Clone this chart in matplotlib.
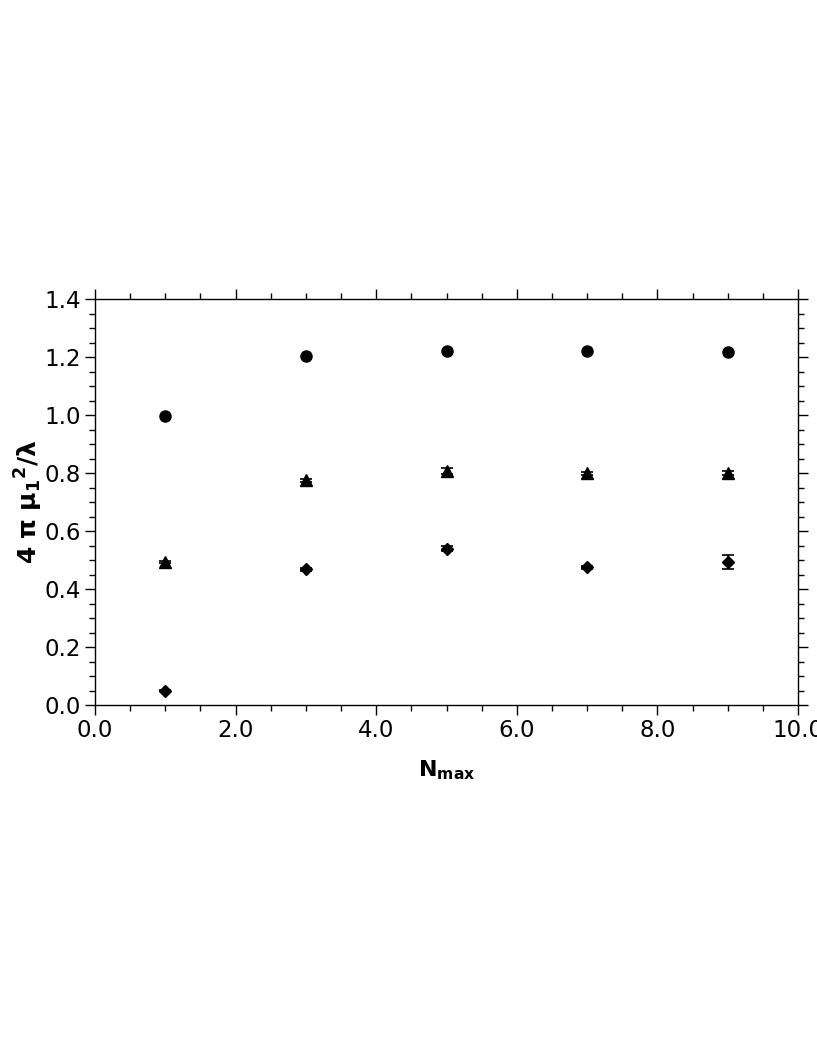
import numpy as np
import matplotlib
matplotlib.use("Agg")
import matplotlib.pyplot as plt
from matplotlib.ticker import MultipleLocator, FormatStrFormatter

plt.rcParams['font.family'] = ['DejaVu Sans']
plt.rcParams['mathtext.fontset'] = 'dejavusans'
plt.rcParams['mathtext.default'] = 'bf'

# data
n_max = [1, 3, 5, 7, 9]
circles = [0.997, 1.204, 1.222, 1.222, 1.219]
triangles = [0.494, 0.776, 0.807, 0.800, 0.801]
triangles_err = [0.003, 0.005, 0.010, 0.005, 0.007]
diamonds = [0.049, 0.468, 0.540, 0.475, 0.494]
diamonds_err = [0.002, 0.004, 0.009, 0.005, 0.023]

fig = plt.figure(figsize=(8.17, 10.58), dpi=100)
ax = fig.add_axes([0.1163, 0.3336, 0.8605, 0.3835])

common = dict(color='black', linestyle='none', capsize=4.5, elinewidth=1.2,
              capthick=1.2)
ax.plot(n_max, circles, 'o', color='black', markersize=8)
ax.errorbar(n_max, triangles, yerr=triangles_err, marker='^', markersize=8, **common)
ax.errorbar(n_max, diamonds, yerr=diamonds_err, marker='D', markersize=6.5, **common)

ax.set_xlim(0, 10)
ax.set_ylim(0, 1.4)
ax.xaxis.set_major_locator(MultipleLocator(2))
ax.xaxis.set_minor_locator(MultipleLocator(0.5))
ax.yaxis.set_major_locator(MultipleLocator(0.2))
ax.yaxis.set_minor_locator(MultipleLocator(0.05))
ax.xaxis.set_major_formatter(FormatStrFormatter('%.1f'))
ax.yaxis.set_major_formatter(FormatStrFormatter('%.1f'))

for s in ax.spines.values():
    s.set_linewidth(1.0)
ax.tick_params(which='both', direction='out', top=True, right=True,
               width=1.0, labelsize=16.5)
ax.tick_params(which='major', length=7, pad=3)
ax.tick_params(which='minor', length=4)

ax.set_xlabel(r'$N_{max}$', fontsize=16, labelpad=12)
ax.set_ylabel(r'$4\ π\ μ_1{}^2/λ$', fontsize=18, labelpad=0)

fig.savefig('out.png', dpi=100)
